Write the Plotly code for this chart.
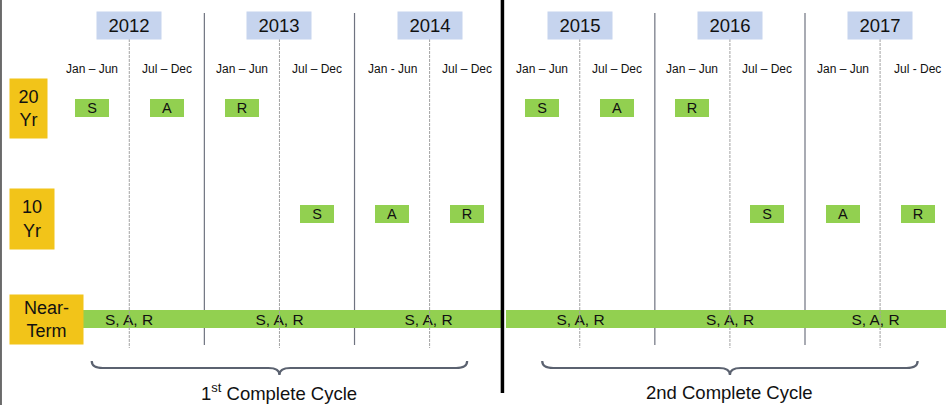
import plotly.graph_objects as go

# ---------------- data ----------------
years = [2012, 2013, 2014, 2015, 2016, 2017]
half_labels = ["Jan – Jun", "Jul – Dec", "Jan – Jun", "Jul – Dec", "Jan - Jun", "Jul – Dec",
               "Jan – Jun", "Jul – Dec", "Jan – Jun", "Jul – Dec", "Jan – Jun", "Jul - Dec"]
row_labels = ["20<br>Yr", "10<br>Yr", "Near-<br>Term"]

yr20_years = [2012, 2012, 2013, 2015, 2015, 2016]
yr20_half = [0, 1, 0, 0, 1, 0]
yr20_tasks = ["S", "A", "R", "S", "A", "R"]

yr10_years = [2013, 2014, 2014, 2016, 2017, 2017]
yr10_half = [1, 0, 1, 1, 0, 1]
yr10_tasks = ["S", "A", "R", "S", "A", "R"]

near_years = [2012, 2013, 2014, 2015, 2016, 2017]
near_tasks = ["S, A, R", "S, A, R", "S, A, R", "S, A, R", "S, A, R", "S, A, R"]

cycle_labels = ["1<sup>st</sup> Complete Cycle", "2nd Complete Cycle"]
cycle_years = [[2012, 2014], [2015, 2017]]

# ---------------- style ----------------
FONT = "Liberation Sans, Arial, sans-serif"
GREEN = "#92D050"
GOLD = "#F2C419"
BLUE = "#C6D4EE"
TXT = "#111111"

W, H = 950, 405
PX0, PXU = 54.2, 75.08        # pixel of x=0, pixels per half-year
PY0, PYU = 108.0, 105.5       # pixel of row 0, pixels per row


def ypx(p):
    return (p - PY0) / PYU


def half_pos(year, half):
    return 2 * (year - years[0]) + half


fig = go.Figure()

# task boxes (20 Yr and 10 Yr rows)
box_w = 34 / PXU
for row, yrs, hs, tasks in [(0, yr20_years, yr20_half, yr20_tasks),
                             (1, yr10_years, yr10_half, yr10_tasks)]:
    centers = [half_pos(y, h) + 0.5 for y, h in zip(yrs, hs)]
    fig.add_trace(go.Bar(
        orientation="h", y=[row] * len(centers), x=[box_w] * len(centers),
        base=[c - box_w / 2 for c in centers], width=18 / PYU,
        marker=dict(color=GREEN, line=dict(width=0)),
        text=tasks, textposition="inside", insidetextanchor="middle", textangle=0,
        constraintext="none", textfont=dict(size=14.5, color=TXT, family=FONT),
        hoverinfo="skip", showlegend=False))

# near-term continuous bar, one segment per year
gap = 3 / PXU
bases, lens = [], []
for y in near_years:
    s = half_pos(y, 0)
    e = s + 2
    if y == cycle_years[0][1]:
        e -= gap
    if y == cycle_years[1][0]:
        s += gap / 2
    if y == near_years[-1]:
        e -= 9 / PXU
    bases.append(s)
    lens.append(e - s)
fig.add_trace(go.Bar(
    orientation="h", y=[2] * len(near_years), x=lens, base=bases, width=18 / PYU,
    marker=dict(color=GREEN, line=dict(width=0)),
    text=near_tasks, textposition="inside", insidetextanchor="middle", textangle=0,
    constraintext="none", textfont=dict(size=15.5, color=TXT, family=FONT),
    hoverinfo="skip", showlegend=False))

shapes = []
annotations = []

# vertical separators
for i, y in enumerate(years):
    mid = half_pos(y, 1)
    shapes.append(dict(type="line", xref="x", yref="y", x0=mid, x1=mid,
                       y0=ypx(39), y1=ypx(348),
                       line=dict(color="#a3a3a3", width=1, dash="3px,1px")))
    if i > 0:
        b = half_pos(y, 0)
        if y == cycle_years[1][0]:
            shapes.append(dict(type="line", xref="x", yref="y", x0=b - 0.03, x1=b - 0.03,
                               y0=ypx(0), y1=ypx(393),
                               line=dict(color="#000000", width=3.5)))
        else:
            shapes.append(dict(type="line", xref="x", yref="y", x0=b, x1=b,
                               y0=ypx(13), y1=ypx(345), layer="below",
                               line=dict(color="#6f7380", width=1.2)))
    # year box
    annotations.append(dict(x=mid, y=ypx(25.5), xref="x", yref="y", text=str(y),
                            showarrow=False, width=64, height=27, bgcolor=BLUE,
                            borderpad=0, font=dict(size=18.5, color=TXT, family=FONT)))

# half-year labels
for k, lab in enumerate(half_labels):
    annotations.append(dict(x=k + 0.5, y=ypx(69), xref="x", yref="y", text=lab,
                            showarrow=False, font=dict(size=12, color=TXT, family=FONT)))

# row label boxes
row_box = [(37, 59), (44, 60), (73, 49)]
for r, lab in enumerate(row_labels):
    w, h = row_box[r]
    annotations.append(dict(x=9 / W, y=r + (0.05 if r == 1 else 0), xref="paper", yref="y",
                            xanchor="left", text=lab, showarrow=False, width=w, height=h,
                            bgcolor=GOLD, borderpad=0, align="center",
                            font=dict(size=18, color=TXT, family=FONT)))

# braces + cycle labels
r = 11 / PXU
yt, ym, ytip = ypx(361), ypx(368), ypx(375)
for lab, (ya, yb) in zip(cycle_labels, cycle_years):
    x0 = half_pos(ya, 0) + 0.5
    x1 = half_pos(yb, 1) + 0.5
    xc = (x0 + x1) / 2
    path = (f"M {x0},{yt} Q {x0},{ym} {x0 + r},{ym} L {xc - r},{ym} "
            f"Q {xc},{ym} {xc},{ytip} Q {xc},{ym} {xc + r},{ym} "
            f"L {x1 - r},{ym} Q {x1},{ym} {x1},{yt}")
    shapes.append(dict(type="path", xref="x", yref="y", path=path,
                       line=dict(color="#5b6270", width=2.2)))
    annotations.append(dict(x=xc, y=ypx(392), xref="x", yref="y", text=lab,
                            showarrow=False, font=dict(size=18.5, color=TXT, family=FONT)))

# left frame edge
shapes.append(dict(type="line", xref="paper", yref="paper", x0=0.001, x1=0.001, y0=0, y1=1,
                   line=dict(color="#6a6a6a", width=2)))

fig.update_layout(
    width=W, height=H, margin=dict(l=0, r=0, t=0, b=0),
    paper_bgcolor="white", plot_bgcolor="white",
    barmode="overlay", bargap=0,
    xaxis=dict(range=[-PX0 / PXU, (W - PX0) / PXU], visible=False, fixedrange=True),
    yaxis=dict(range=[ypx(H), ypx(0)], visible=False, fixedrange=True),
    shapes=shapes, annotations=annotations,
    font=dict(family=FONT),
)

fig.write_html("out.html", config={"displayModeBar": False},
               post_script="document.body.style.margin='0';document.body.style.overflow='hidden';")
